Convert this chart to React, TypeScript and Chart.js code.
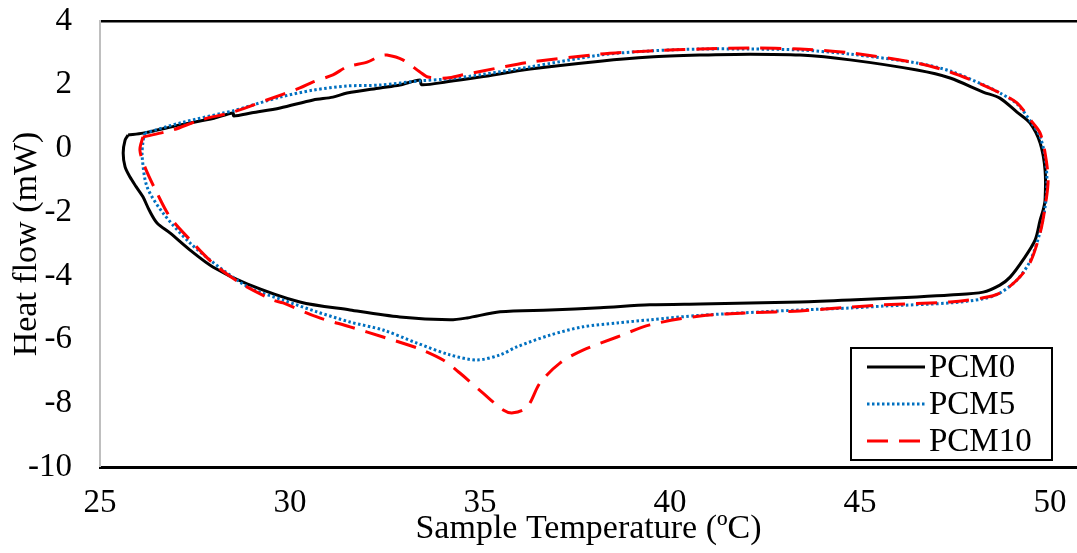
import React, { useEffect, useRef } from "react";
import { Chart, registerables } from "chart.js";

Chart.register(...registerables);

const seriesLabels = ["PCM0", "PCM5", "PCM10"];
const seriesColors = ["#000000", "#0070C0", "#FF0000"];

const xTicks = [25, 30, 35, 40, 45, 50];
const yTicks = [-10, -8, -6, -4, -2, 0, 2, 4];

const pcm0T = [25.74, 26.13, 27.11, 28.0, 28.5, 28.52, 29.0, 29.74, 30.61, 31.13, 31.5, 32.37, 32.89, 33.42, 33.46, 34.13, 35.0, 36.32, 38.16, 39.47, 40.79, 42.11, 43.42, 44.74, 46.5, 47.37, 48.24, 48.68, 49.13, 49.47, 49.74, 49.87, 49.87, 49.82, 49.74, 49.61, 49.29, 48.95, 48.68, 48.24, 47.37, 46.5, 44.74, 43.42, 40.79, 39.47, 38.16, 36.84, 35.53, 34.66, 34.21, 32.89, 31.58, 30.26, 28.87, 27.97, 27.37, 26.84, 26.5, 26.3, 26.13, 25.95, 25.79, 25.66, 25.61, 25.66, 25.74];
const pcm0H = [0.42, 0.48, 0.74, 0.95, 1.11, 1.02, 1.12, 1.27, 1.52, 1.61, 1.74, 1.9, 1.99, 2.15, 2.0, 2.09, 2.24, 2.49, 2.74, 2.87, 2.93, 2.96, 2.93, 2.78, 2.46, 2.21, 1.77, 1.58, 1.14, 0.8, 0.17, -0.68, -1.62, -1.93, -2.25, -2.87, -3.5, -4.04, -4.29, -4.51, -4.6, -4.66, -4.76, -4.82, -4.88, -4.91, -5.0, -5.07, -5.13, -5.32, -5.38, -5.29, -5.07, -4.82, -4.25, -3.72, -3.19, -2.65, -2.34, -1.95, -1.52, -1.2, -0.9, -0.58, -0.14, 0.26, 0.42];

const pcm5T = [26.18, 27.11, 28.24, 28.5, 29.74, 30.61, 31.5, 32.37, 33.42, 34.13, 35.0, 36.32, 38.16, 39.47, 40.79, 42.11, 43.42, 44.74, 46.5, 47.37, 48.24, 48.68, 49.13, 49.55, 49.74, 49.87, 49.92, 49.87, 49.74, 49.47, 49.13, 48.68, 48.24, 47.37, 45.61, 44.74, 43.42, 40.79, 39.47, 38.61, 37.71, 36.84, 35.97, 35.53, 34.92, 34.21, 33.34, 32.45, 31.58, 30.71, 29.82, 28.95, 28.24, 27.37, 26.66, 26.24, 26.11, 26.13, 26.18];
const pcm5H = [0.48, 0.8, 1.11, 1.18, 1.61, 1.83, 1.96, 1.99, 2.12, 2.18, 2.31, 2.56, 2.93, 3.06, 3.12, 3.12, 3.09, 2.96, 2.68, 2.43, 2.0, 1.74, 1.4, 0.74, 0.36, -0.27, -1.05, -1.84, -2.62, -3.55, -4.13, -4.54, -4.72, -4.85, -4.95, -5.01, -5.07, -5.24, -5.38, -5.48, -5.6, -5.86, -6.23, -6.48, -6.64, -6.48, -6.11, -5.7, -5.45, -5.13, -4.76, -4.38, -3.82, -2.97, -2.03, -1.21, -0.27, 0.2, 0.48];

const pcm10T = [26.13, 26.92, 27.63, 28.5, 29.39, 30.26, 30.61, 31.13, 31.5, 32.03, 32.37, 32.55, 32.97, 33.42, 33.63, 34.13, 34.55, 35.45, 36.32, 38.16, 39.47, 40.79, 42.11, 43.42, 44.74, 46.5, 47.37, 48.24, 48.68, 49.13, 49.55, 49.74, 49.87, 49.95, 49.87, 49.74, 49.47, 49.13, 48.68, 48.24, 47.37, 45.61, 44.74, 43.42, 42.11, 40.79, 39.47, 38.61, 37.71, 37.11, 36.58, 36.24, 35.87, 35.61, 35.08, 34.47, 34.03, 33.34, 32.45, 31.58, 30.71, 29.82, 29.55, 28.68, 27.97, 27.37, 26.84, 26.5, 26.18, 26.05, 26.13];
const pcm10H = [0.36, 0.58, 0.89, 1.14, 1.52, 1.9, 2.09, 2.31, 2.56, 2.71, 2.9, 2.93, 2.78, 2.4, 2.24, 2.21, 2.31, 2.52, 2.71, 2.96, 3.06, 3.12, 3.15, 3.12, 3.0, 2.68, 2.4, 1.99, 1.74, 1.43, 0.8, 0.48, -0.14, -0.99, -1.84, -2.65, -3.6, -4.13, -4.54, -4.69, -4.82, -4.91, -4.98, -5.1, -5.16, -5.26, -5.54, -5.92, -6.33, -6.73, -7.36, -8.12, -8.3, -8.21, -7.68, -7.05, -6.64, -6.26, -5.92, -5.6, -5.29, -4.85, -4.76, -4.22, -3.6, -2.87, -2.15, -1.4, -0.58, -0.05, 0.36];

const toPoints = (t: number[], h: number[]) => t.map((v, i) => ({ x: v, y: h[i] }));

const dashes: number[][] = [[], [2.5, 2.5], [21, 11]];
const widths = [3, 3, 3];

const zeroPad = (s: any) => {
  s.paddingTop = 0;
  s.paddingBottom = 0;
  s.paddingLeft = 0;
  s.paddingRight = 0;
};

const boxLegend = {
  id: "boxLegend",
  afterDatasetsDraw(chart: any) {
    const { ctx, chartArea } = chart;
    const bw = 201;
    const bh = 112;
    const bx = chartArea.right - 226;
    const by = chartArea.bottom - 119;
    ctx.save();
    ctx.fillStyle = "#ffffff";
    ctx.fillRect(bx, by, bw, bh);
    ctx.strokeStyle = "#000000";
    ctx.lineWidth = 2;
    ctx.strokeRect(bx, by, bw, bh);
    chart.data.datasets.forEach((ds: any, i: number) => {
      const yy = by + 19 + i * 37;
      ctx.beginPath();
      ctx.setLineDash(dashes[i]);
      ctx.strokeStyle = ds.borderColor;
      ctx.lineWidth = ds.borderWidth;
      ctx.moveTo(bx + 16, yy);
      ctx.lineTo(bx + 74, yy);
      ctx.stroke();
      ctx.setLineDash([]);
      ctx.fillStyle = "#000000";
      ctx.font = "33px 'Liberation Serif'";
      ctx.textAlign = "left";
      ctx.textBaseline = "middle";
      ctx.fillText(ds.label, bx + 78, yy + 1);
    });
    ctx.restore();
  },
};

export default function App() {
  const ref = useRef<HTMLCanvasElement>(null);
  useEffect(() => {
    if (!ref.current) return;
    const series = [toPoints(pcm0T, pcm0H), toPoints(pcm5T, pcm5H), toPoints(pcm10T, pcm10H)];
    const chart = new Chart(ref.current, {
      type: "scatter",
      data: {
        datasets: series.map((pts, i) => ({
          label: seriesLabels[i],
          data: pts,
          showLine: true,
          borderColor: seriesColors[i],
          backgroundColor: seriesColors[i],
          borderWidth: widths[i],
          borderDash: dashes[i],
          pointRadius: 0,
          tension: 0.3,
          order: 2 - i,
        })),
      },
      options: {
        animation: false,
        responsive: false,
        layout: { padding: { top: 21, right: 0, bottom: 0, left: 0 } },
        plugins: { legend: { display: false }, tooltip: { enabled: false } },
        font: { family: "'Liberation Serif'" } as any,
        scales: {
          x: {
            type: "linear",
            min: 25,
            max: 50.71,
            afterBuildTicks: (s: any) => {
              s.ticks = xTicks.map((v) => ({ value: v }));
            },
            afterFit: (s: any) => {
              s.height = 86;
              zeroPad(s);
            },
            grid: { display: false, drawTicks: false },
            border: { display: true, color: "#000000", width: 3 },
            ticks: {
              padding: 17,
              color: "#000000",
              font: { family: "'Liberation Serif'", size: 33 },
            },
            title: {
              display: true,
              text: "Sample Temperature (ºC)",
              color: "#000000",
              font: { family: "'Liberation Serif'", size: 34 },
              padding: { top: 0, bottom: 4 },
            },
          },
          y: {
            type: "linear",
            min: -10,
            max: 4,
            afterBuildTicks: (s: any) => {
              s.ticks = yTicks.map((v) => ({ value: v }));
            },
            afterFit: (s: any) => {
              s.width = 100;
              zeroPad(s);
            },
            grid: {
              display: true,
              drawTicks: false,
              color: (c: any) => (c.tick && c.tick.value === 4 ? "#000000" : "rgba(0,0,0,0)"),
              lineWidth: (c: any) => (c.tick && c.tick.value === 4 ? 2.5 : 0),
            },
            border: { display: true, color: "#BFBFBF", width: 2 },
            ticks: {
              padding: 28,
              color: "#000000",
              font: { family: "'Liberation Serif'", size: 33 },
            },
            title: {
              display: true,
              text: "Heat flow (mW)",
              color: "#000000",
              font: { family: "'Liberation Serif'", size: 34 },
              padding: { top: 7, bottom: 0 },
            },
          },
        },
      },
      plugins: [boxLegend],
    });
    return () => chart.destroy();
  }, []);
  return (
    <div style={{ position: "absolute", left: 0, top: 0, width: 1077, height: 553, background: "#ffffff" }}>
      <canvas ref={ref} width={1077} height={553} style={{ width: 1077, height: 553 }} />
    </div>
  );
}
